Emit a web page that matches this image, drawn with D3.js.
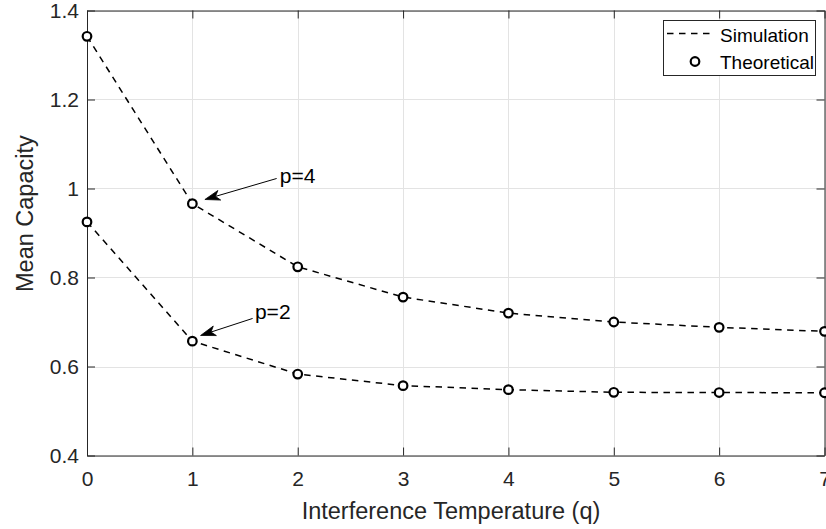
<!DOCTYPE html>
<html>
<head>
<meta charset="utf-8">
<script src="https://cdn.jsdelivr.net/npm/d3@7"></script>
<style>
  html, body { margin: 0; padding: 0; background: #ffffff; }
  svg { display: block; }
  text { font-family: "Liberation Sans", Arial, Helvetica, sans-serif; fill: #262626; }
</style>
</head>
<body>
<svg id="chart" width="826" height="529"></svg>
<script>
// Mean capacity versus interference temperature q, for two values of p
const qValues = [0, 1, 2, 3, 4, 5, 6, 7];
const capacityP4 = [1.342, 0.966, 0.824, 0.756, 0.720, 0.700, 0.688, 0.679];
const capacityP2 = [0.925, 0.657, 0.583, 0.557, 0.548, 0.542, 0.5415, 0.541];

const xTicks = [0, 1, 2, 3, 4, 5, 6, 7];
const yTicks = [0.4, 0.6, 0.8, 1, 1.2, 1.4];
const yTickLabels = ["0.4", "0.6", "0.8", "1", "1.2", "1.4"];

const legendLabels = ["Simulation", "Theoretical"];

// Arrow annotations (data coordinates)
const annLabels = ["p=4", "p=2"];
const annTextPos = [[1.83, 1.013], [1.594, 0.7067]];
const annTail = [[1.80, 1.0225], [1.572, 0.708]];
const annTip = [[1.119, 0.9753], [1.078, 0.6697]];

const svg = d3.select("#chart");
const plotLeft = 87, plotRight = 824.5, plotTop = 10.5, plotBottom = 455.5;

const x = d3.scaleLinear().domain([0, 7]).range([plotLeft, plotRight]);
const y = d3.scaleLinear().domain([0.4, 1.4]).range([plotBottom, plotTop]);

svg.append("rect").attr("width", 826).attr("height", 529).attr("fill", "#ffffff");

// grid
const grid = svg.append("g").attr("stroke", "#e3e3e3").attr("stroke-width", 1);
xTicks.forEach(t => {
  grid.append("line").attr("x1", Math.round(x(t)) + 0.5).attr("x2", Math.round(x(t)) + 0.5)
    .attr("y1", plotTop).attr("y2", plotBottom);
});
yTicks.forEach(t => {
  grid.append("line").attr("x1", plotLeft).attr("x2", plotRight)
    .attr("y1", Math.round(y(t)) + 0.5).attr("y2", Math.round(y(t)) + 0.5);
});

// axes: bottom/left with labels, top/right mirrored ticks only
const tickLen = 8;
const xAxisB = d3.axisBottom(x).tickValues(xTicks).tickFormat(d3.format("d")).tickSizeInner(-tickLen).tickSizeOuter(0).tickPadding(16);
const xAxisT = d3.axisTop(x).tickValues(xTicks).tickFormat("").tickSizeInner(-tickLen).tickSizeOuter(0);
const yAxisL = d3.axisLeft(y).tickValues(yTicks).tickFormat((d, i) => yTickLabels[i]).tickSizeInner(-tickLen).tickSizeOuter(0).tickPadding(8);
const yAxisR = d3.axisRight(y).tickValues(yTicks).tickFormat("").tickSizeInner(-tickLen).tickSizeOuter(0);

function styleAxis(g) {
  g.select(".domain").attr("stroke", "#262626");
  g.selectAll(".tick line").attr("stroke", "#262626");
  g.selectAll(".tick text").attr("fill", "#262626")
    .style("font-family", '"Liberation Sans", Arial, Helvetica, sans-serif')
    .style("font-size", "21px");
}

svg.append("g").attr("transform", `translate(0,${plotBottom})`).call(xAxisB).call(styleAxis);
svg.append("g").attr("transform", `translate(0,${plotTop})`).call(xAxisT).call(styleAxis);
svg.append("g").attr("transform", `translate(${plotLeft},0)`).call(yAxisL).call(styleAxis);
svg.append("g").attr("transform", `translate(${plotRight},0)`).call(yAxisR).call(styleAxis);

// axis labels
svg.append("text")
  .attr("x", 451).attr("y", 519)
  .attr("text-anchor", "middle")
  .style("font-size", "23.5px")
  .text("Interference Temperature (q)");

svg.append("text")
  .attr("transform", "translate(33,292) rotate(-90)")
  .attr("text-anchor", "start")
  .style("font-size", "23.5px")
  .text("Mean Capacity");

// series
const series = [capacityP4, capacityP2];
const line = d3.line().x((d, i) => x(qValues[i])).y(d => y(d));

series.forEach(vals => {
  svg.append("path")
    .datum(vals)
    .attr("d", line)
    .attr("fill", "none")
    .attr("stroke", "#000")
    .attr("stroke-width", 1.5)
    .attr("stroke-dasharray", "6.5,5.5");
});

series.forEach(vals => {
  svg.append("g").selectAll("circle")
    .data(vals)
    .join("circle")
    .attr("cx", (d, i) => x(qValues[i]))
    .attr("cy", d => y(d))
    .attr("r", 4.3)
    .attr("fill", "#fff")
    .attr("stroke", "#000")
    .attr("stroke-width", 2.2);
});

// legend
const lg = svg.append("g");
lg.append("rect")
  .attr("x", 663.5).attr("y", 20.5).attr("width", 152).attr("height", 55)
  .attr("fill", "#fff").attr("stroke", "#262626").attr("stroke-width", 1);
lg.append("line")
  .attr("x1", 667).attr("x2", 713).attr("y1", 33.5).attr("y2", 33.5)
  .attr("stroke", "#000").attr("stroke-width", 1.5).attr("stroke-dasharray", "6.5,5.5");
lg.append("circle")
  .attr("cx", 695).attr("cy", 61.5).attr("r", 4.3)
  .attr("fill", "#fff").attr("stroke", "#000").attr("stroke-width", 2.2);
lg.selectAll("text.leg")
  .data(legendLabels)
  .join("text")
  .attr("class", "leg")
  .attr("x", 720)
  .attr("y", (d, i) => 41.5 + i * 27)
  .style("font-size", "19px")
  .style("fill", "#000")
  .text(d => d);

// arrow annotations
annLabels.forEach((lab, i) => {
  const tx = x(annTail[i][0]), ty = y(annTail[i][1]);
  const hx = x(annTip[i][0]), hy = y(annTip[i][1]);
  const dx = hx - tx, dy = hy - ty;
  const len = Math.hypot(dx, dy);
  const ux = dx / len, uy = dy / len;
  const nx = -uy, ny = ux;
  const L = 15, W = 5, notch = 11;
  svg.append("line")
    .attr("x1", tx).attr("y1", ty)
    .attr("x2", hx - ux * notch).attr("y2", hy - uy * notch)
    .attr("stroke", "#000").attr("stroke-width", 1);
  const pts = [
    [hx, hy],
    [hx - ux * L + nx * W, hy - uy * L + ny * W],
    [hx - ux * notch, hy - uy * notch],
    [hx - ux * L - nx * W, hy - uy * L - ny * W]
  ];
  svg.append("path")
    .attr("d", "M" + pts.map(p => p.join(",")).join("L") + "Z")
    .attr("fill", "#000").attr("stroke", "#000").attr("stroke-width", 0.8)
    .attr("stroke-linejoin", "miter");
  svg.append("text")
    .attr("x", x(annTextPos[i][0])).attr("y", y(annTextPos[i][1]))
    .style("font-size", "21px")
    .style("fill", "#000")
    .text(lab);
});
</script>
</body>
</html>
